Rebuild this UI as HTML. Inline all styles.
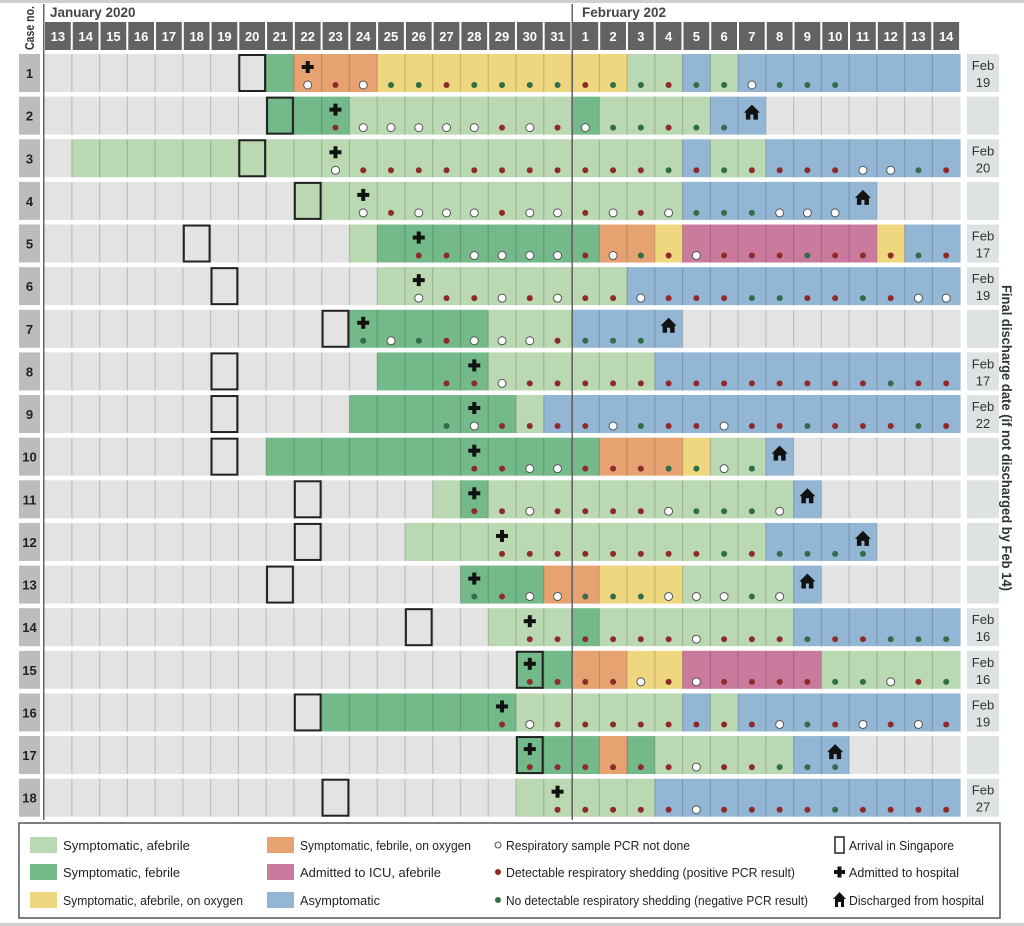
<!DOCTYPE html>
<html><head><meta charset="utf-8">
<style>
html,body{margin:0;padding:0;background:#fff;}
svg{display:block;font-family:"Liberation Sans Narrow","Liberation Sans",sans-serif;}
</style></head>
<body>
<svg id="s" width="1024" height="926" viewBox="0 0 1024 926" xmlns="http://www.w3.org/2000/svg"></svg>
<script>
var S=document.getElementById('s');var h='';
var X0=44,CW=27.76,Y0=54,RP=42.63,RH=38;
var col={g:'#e3e3e3',l:'#bad8b1',G:'#73b98a',o:'#e6a271',y:'#efd77f',b:'#93b6d5',p:'#c97a9d'};
var rows=[];
function R(c,d,a,m,ho,f){rows.push([c,d,a,m,ho,f]);}
var g=function(n){return "g".repeat(n)},dd=function(n){return ".".repeat(n)};
R(g(8)+"G"+"ooo"+"y".repeat(9)+"ll"+"b"+"l"+"b".repeat(8), dd(9)+"wrw"+"nnrnnnn"+"rnnrnnwnnn"+"....",7,9,-1,"19");
R(g(8)+"GGG"+"l".repeat(8)+"G"+"llll"+"bb"+g(7), dd(10)+"r"+"wwwww"+"rwrw"+"nnrnn"+dd(8),8,10,25,"");
R("g"+"l".repeat(22)+"b"+"ll"+"b".repeat(7), dd(10)+"w"+"r".repeat(11)+"nrnrrrrwwnr",7,10,-1,"20");
R(g(9)+"l".repeat(14)+"b".repeat(7)+"ggg", dd(11)+"wrwwwrww"+"rwrw"+"nnnwww"+"....",9,11,29,"");
R(g(11)+"l"+"G".repeat(8)+"oo"+"y"+"p".repeat(7)+"y"+"bb", dd(13)+"rrwwww"+"rwnrwrrrnrrrnr",5,13,-1,"17");
R(g(12)+"l".repeat(9)+"b".repeat(12), dd(13)+"wrrwrw"+"rrwrrrnnrrnrww",6,13,-1,"19");
R(g(11)+"GGGGG"+"lll"+"bbbb"+g(10), dd(11)+"nwnrwwwr"+"nnn"+dd(11),10,11,22,"");
R(g(12)+"GGGG"+"llllll"+"b".repeat(11), dd(14)+"rrwrr"+"rrr"+"rrrrrrrrnrr",6,15,-1,"17");
R(g(11)+"GGGGGG"+"l"+"b".repeat(15), dd(14)+"nwrrr"+"rwnrrwrrnrrrnr",6,15,-1,"22");
R(g(8)+"G".repeat(12)+"ooo"+"y"+"ll"+"b"+g(6), dd(15)+"rrww"+"rrrnnwn"+dd(7),6,15,26,"");
R(g(14)+"l"+"G"+"l".repeat(11)+"b"+g(5), dd(15)+"rrwr"+"rrrwnnnw"+dd(6),9,15,27,"");
R(g(13)+"l".repeat(13)+"bbbb"+"ggg", dd(16)+"rrr"+"rrrrrnrnnnn"+"...",9,16,29,"");
R(g(15)+"GGG"+"oo"+"yyy"+"llll"+"b"+g(5), dd(15)+"nrww"+"nnnwwwnw"+dd(6),8,15,27,"");
R(g(16)+"lll"+"G"+"l".repeat(7)+"b".repeat(6), dd(17)+"rr"+"rrrrwrrrnrrnnn",13,17,-1,"16");
R(g(17)+"GG"+"oo"+"yy"+"ppppp"+"lllll", dd(17)+"rr"+"rrwrwrrrrnnwrn",17,17,-1,"16");
R(g(10)+"G".repeat(7)+"llllll"+"b"+"l"+"b".repeat(8), dd(16)+"rwr"+"rrrrrrrwnrwrwr",9,16,-1,"19");
R(g(17)+"GGG"+"o"+"G"+"lllll"+"bb"+"gggg", dd(17)+"rr"+"rrrrwrrnnn"+"....",17,17,28,"");
R(g(17)+"lllll"+"b".repeat(11), dd(18)+"r"+"rrrrwrrrrnrrrr",10,18,-1,"27");

function cx(i){return X0+i*CW;}
h+='<rect x="0" y="0" width="1024" height="3" fill="#cfcfcf"/>';
h+='<rect x="0" y="923" width="1024" height="3" fill="#cfcfcf"/>';
h+='<text x="50" y="17" font-size="13.5" font-weight="bold" fill="#444">January 2020</text>';
h+='<text x="582" y="17" font-size="13.5" font-weight="bold" fill="#444">February 202</text>';
h+='<text transform="translate(34,50) rotate(-90)" font-size="12.5" font-weight="bold" fill="#333" textLength="44" lengthAdjust="spacingAndGlyphs">Case no.</text>';
var days=[];for(var d=13;d<=31;d++)days.push(d);for(d=1;d<=14;d++)days.push(d);
for(var i=0;i<33;i++){
 h+='<rect x="'+(cx(i)+1)+'" y="22" width="'+(CW-2)+'" height="28" fill="#636363"/>';
 h+='<text x="'+(cx(i)+CW/2)+'" y="41" text-anchor="middle" font-size="13" font-weight="bold" fill="#fff">'+days[i]+'</text>';
}
for(var r=0;r<18;r++){
 var Rw=rows[r],y=Y0+r*RP;
 h+='<rect x="19" y="'+y+'" width="21" height="'+RH+'" fill="#bcbcbc"/>';
 h+='<text x="29.5" y="'+(y+24)+'" text-anchor="middle" font-size="13" font-weight="bold" fill="#222">'+(r+1)+'</text>';
 for(i=0;i<33;i++){
  var c=Rw[0][i]||'g';
  h+='<rect x="'+cx(i)+'" y="'+y+'" width="'+(CW+0.5)+'" height="'+RH+'" fill="'+col[c]+'"/>';
 }
 for(i=1;i<33;i++){h+='<rect x="'+(cx(i)-0.5)+'" y="'+y+'" width="1.2" height="'+RH+'" fill="rgba(0,0,0,0.16)"/>';}
 for(i=0;i<33;i++){
  var q=Rw[1][i],mx=cx(i)+CW/2,my=y+31;
  if(q=='r')h+='<circle cx="'+mx+'" cy="'+my+'" r="3" fill="#8e2a2a"/>';
  else if(q=='n')h+='<circle cx="'+mx+'" cy="'+my+'" r="3" fill="#2f6e48"/>';
  else if(q=='w')h+='<circle cx="'+mx+'" cy="'+my+'" r="4" fill="#fff" stroke="#555" stroke-width="1"/>';
 }
 var a=Rw[2];h+='<rect x="'+(cx(a)+1)+'" y="'+(y+1)+'" width="'+(CW-2)+'" height="'+(RH-2)+'" fill="none" stroke="#222" stroke-width="2"/>';
 var m=cx(Rw[3])+CW/2,py=y+13;
 h+='<rect x="'+(m-6)+'" y="'+(py-2)+'" width="12" height="4" fill="#111"/><rect x="'+(m-2)+'" y="'+(py-6)+'" width="4" height="12" fill="#111"/>';
 if(Rw[4]>=0){var hx=cx(Rw[4])+CW/2,hy=y+16;
  h+='<path d="M'+(hx-8)+' '+hy+' L'+hx+' '+(hy-8)+' L'+(hx+8)+' '+hy+' L'+(hx+6)+' '+hy+' L'+(hx+6)+' '+(hy+7)+' L'+(hx+1.5)+' '+(hy+7)+' L'+(hx+1.5)+' '+(hy+2)+' L'+(hx-1.5)+' '+(hy+2)+' L'+(hx-1.5)+' '+(hy+7)+' L'+(hx-6)+' '+(hy+7)+' L'+(hx-6)+' '+hy+' Z" fill="#111"/>';}
 h+='<rect x="967" y="'+y+'" width="32" height="'+RH+'" fill="#dde2e3"/>';
 if(Rw[5]){h+='<text x="983" y="'+(y+16)+'" text-anchor="middle" font-size="13" fill="#333">Feb</text><text x="983" y="'+(y+33)+'" text-anchor="middle" font-size="13" fill="#333">'+Rw[5]+'</text>';}
}
h+='<rect x="43" y="4" width="1.5" height="816" fill="#666"/>';
h+='<rect x="571.5" y="4" width="1.5" height="816" fill="#666"/>';
h+='<text transform="translate(1002,285) rotate(90)" font-size="13.5" font-weight="bold" fill="#333" textLength="306" lengthAdjust="spacingAndGlyphs">Final discharge date (if not discharged by Feb 14)</text>';
h+='<rect x="19" y="823" width="981" height="95" fill="#fff" stroke="#555" stroke-width="1.5"/>';
function T(x,y,s,w){return '<text x="'+x+'" y="'+y+'" font-size="13" fill="#222" textLength="'+w+'" lengthAdjust="spacingAndGlyphs">'+s+'</text>';}
var L=[[30,845,'l','Symptomatic, afebrile',127],[30,872,'G','Symptomatic, febrile',117],[30,900,'y','Symptomatic, afebrile, on oxygen',180],[267,845,'o','Symptomatic, febrile, on oxygen',171],[267,872,'p','Admitted to ICU, afebrile',141],[267,900,'b','Asymptomatic',80]];
L.forEach(function(e){h+='<rect x="'+e[0]+'" y="'+(e[1]-8)+'" width="27" height="16" fill="'+col[e[2]]+'"/>'+T(e[0]+33,e[1]+5,e[3],e[4]);});
h+='<circle cx="498" cy="845" r="3" fill="#fff" stroke="#555"/>'+T(506,850,'Respiratory sample PCR not done',184);
h+='<circle cx="498" cy="872" r="3" fill="#8e2a2a"/>'+T(506,877,'Detectable respiratory shedding (positive PCR result)',289);
h+='<circle cx="498" cy="900" r="3" fill="#2f6e48"/>'+T(506,905,'No detectable respiratory shedding (negative PCR result)',302);
h+='<rect x="835" y="837" width="9" height="16" fill="none" stroke="#222" stroke-width="1.5"/>'+T(849,850,'Arrival in Singapore',105);
h+='<rect x="834" y="870" width="11" height="4" fill="#111"/><rect x="837.5" y="866.5" width="4" height="11" fill="#111"/>'+T(849,877,'Admitted to hospital',110);
h+='<path d="M833 899 L839.5 892 L846 899 L844 899 L844 907 L841 907 L841 902 L838 902 L838 907 L835 907 L835 899 Z" fill="#111"/>'+T(849,905,'Discharged from hospital',135);
S.innerHTML=h;
</script>
</body></html>
